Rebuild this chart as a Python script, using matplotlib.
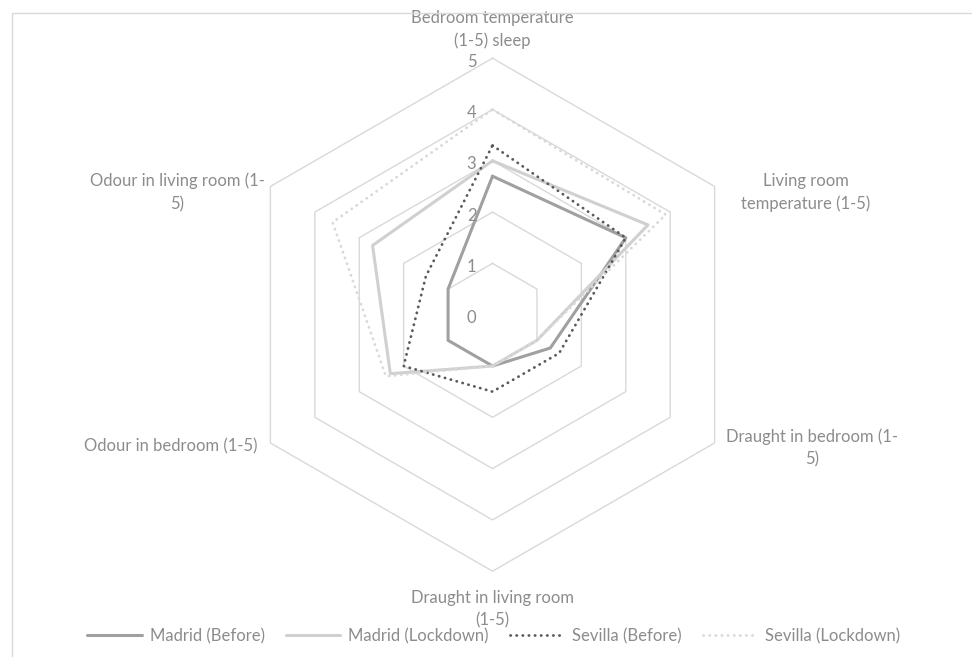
import numpy as np
import matplotlib
matplotlib.use("Agg")
import matplotlib.pyplot as plt
from matplotlib.patches import Rectangle

plt.rcParams["font.family"] = ["Lato", "DejaVu Sans"]

# ---- data -------------------------------------------------------------
categories = [
    "Bedroom temperature\n(1-5) sleep",
    "Living room\ntemperature (1-5)",
    "Draught in bedroom (1-\n5)",
    "Draught in living room\n(1-5)",
    "Odour in bedroom (1-5)",
    "Odour in living room (1-\n5)",
]
series_names = ["Madrid (Before)", "Madrid (Lockdown)", "Sevilla (Before)", "Sevilla (Lockdown)"]
madrid_before = [2.7, 3.0, 1.3, 1.0, 1.0, 1.0]
madrid_lockdown = [3.0, 3.5, 1.0, 1.0, 2.3, 2.7]
sevilla_before = [3.3, 3.0, 1.5, 1.5, 2.0, 1.5]
sevilla_lockdown = [4.0, 3.9, 1.0, 1.0, 2.4, 3.6]
radial_ticks = [0, 1, 2, 3, 4, 5]

# ---- styling ------------------------------------------------------------
TEXT = "#8c8c8c"
GRID = "#d9d9d9"
FS = 12
styles = [
    dict(color="#a0a0a0", lw=2.2, ls="-", solid_capstyle="round"),
    dict(color="#d0d0d0", lw=2.2, ls="-", solid_capstyle="round"),
    dict(color="#5a5a5a", lw=2.0, ls=(0, (0.1, 2.1)), dash_capstyle="round"),
    dict(color="#d9d9d9", lw=2.0, ls=(0, (0.1, 2.1)), dash_capstyle="round"),
]
# label offsets (pixels) from the outer vertex of each spoke
label_offsets = [(0, 29), (91, -6), (97, -5), (0, -38), (-13, -3), (-93, -6)]
label_ha = ["center", "center", "center", "center", "right", "center"]

fig = plt.figure(figsize=(9.72, 6.57), dpi=100)
fig.patch.set_facecolor("white")

# chart-area border (runs off the right/bottom edge)
fig.add_artist(Rectangle((12 / 972, -0.05), 1.2, 1 - 13 / 657 + 0.05,
                         transform=fig.transFigure, fill=False,
                         edgecolor=GRID, lw=1.0))

ax = fig.add_axes([0.2428, 0.1306, 0.5278, 0.7808], projection="polar")
ax.set_theta_offset(np.pi / 2)
ax.set_theta_direction(-1)
ax.set_ylim(0, radial_ticks[-1])
ax.set_axis_off()

n = len(categories)
angles = np.linspace(0, 2 * np.pi, n, endpoint=False)
closed = np.append(angles, angles[0])

# hexagonal grid
for level in radial_ticks[1:]:
    ax.plot(closed, [level] * (n + 1), color=GRID, lw=1.0, zorder=1, clip_on=False)

# series
handles = []
for name, vals, st in zip(series_names,
                          [madrid_before, madrid_lockdown, sevilla_before, sevilla_lockdown],
                          styles):
    v = list(vals) + [vals[0]]
    line, = ax.plot(closed, v, label=name, zorder=3, clip_on=False, **st)
    handles.append(line)

# radial value labels
for level in radial_ticks:
    ax.annotate(str(level), xy=(0, level), xytext=(-21, -3.5),
                textcoords="offset pixels", ha="center", va="center",
                color=TEXT, fontsize=FS, annotation_clip=False)

# category labels
for ang, text, off, ha in zip(angles, categories, label_offsets, label_ha):
    ax.annotate(text, xy=(ang, radial_ticks[-1]), xytext=off,
                textcoords="offset pixels", ha=ha, va="center",
                multialignment="center", linespacing=1.5,
                color=TEXT, fontsize=FS, annotation_clip=False)

fig.legend(handles, series_names, loc="center", bbox_to_anchor=(0.508, 0.032),
           ncol=4, frameon=False, handlelength=3.25, handletextpad=0.5,
           columnspacing=1.25, fontsize=FS, labelcolor=TEXT)

fig.savefig("out.png", dpi=100, facecolor="white")
